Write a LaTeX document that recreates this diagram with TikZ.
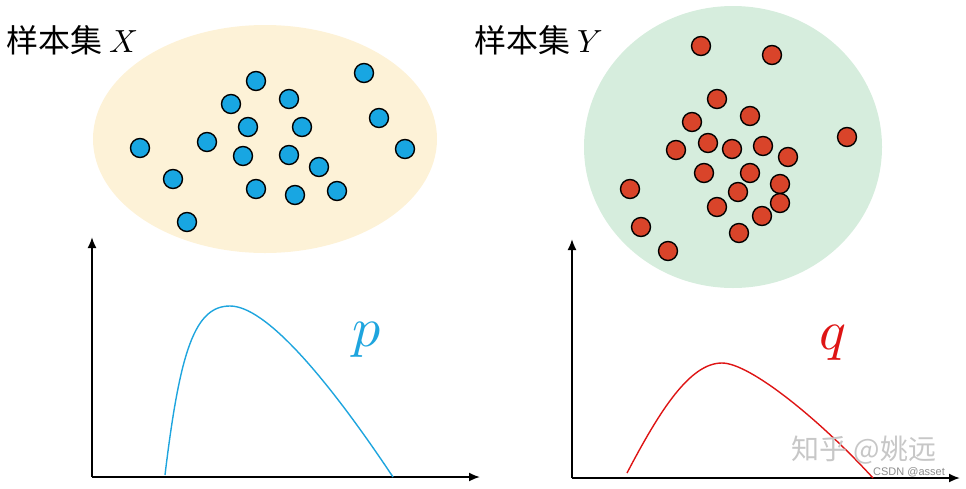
\documentclass[tikz,border=0pt]{standalone}
\usepackage{fontspec}
\usepackage{unicode-math}
\setmathfont{Latin Modern Math}
\newfontfamily\cjk{Noto Sans CJK SC}
\newfontfamily\marque{Liberation Sans}
\usetikzlibrary{arrows.meta}
\definecolor{sable}{RGB}{253,242,215}
\definecolor{menthe}{RGB}{214,237,221}
\definecolor{cyanpt}{RGB}{24,166,226}
\definecolor{rougept}{RGB}{217,68,42}
\definecolor{courbep}{RGB}{30,165,222}
\definecolor{courbeq}{RGB}{222,20,20}
\begin{document}
\begin{tikzpicture}[x=1pt,y=-1pt]
            \tikzstyle{bleu}=[circle,draw,line width=1.4pt,fill=cyanpt,minimum size=19pt,inner sep=0pt]
            \tikzstyle{rouge}=[circle,draw,line width=1.4pt,fill=rougept,minimum size=19pt,inner sep=0pt]
            \tikzstyle{axe}=[line width=1.8pt,-{Latex[length=11pt,width=9pt]}]
            \useasboundingbox (0,0) rectangle (966,488);
            % les deux nuages
            \fill[sable] (265,139) ellipse [x radius=172,y radius=114];
            \fill[menthe] (733,147) ellipse [x radius=149,y radius=141];
            \foreach \i/\a/\b in {1/256/81,2/289/99,3/231/104,4/364/73,5/248/127,6/302/127,
                7/379/118,8/140/148,9/207/142,10/243/156,11/289/155,12/319/167,13/405/149,
                14/173/179,15/256/189,16/295/195,17/337/191,18/187/222}
                \node[bleu] (x\i) at (\a,\b) {};
            \foreach \i/\a/\b in {1/701/46,2/772/55,3/717/99,4/750/116,5/692/122,6/676/150,
                7/708/143,8/732/149,9/763/146,10/788/157,11/847/137,12/704/173,13/750/173,
                14/780/184,15/738/192,16/630/189,17/717/207,18/780/203,19/762/216,20/641/227,
                21/739/233,22/668/251}
                \node[rouge] (y\i) at (\a,\b) {};
            \node[anchor=west] (sx) at (3,40) {\fontsize{32}{38}\selectfont\cjk 样本集 $X$};
            \node[anchor=west] (sy) at (471,40) {\fontsize{32}{38}\selectfont\cjk 样本集 $Y$};
            % les axes
            \coordinate (o1) at (92,477);
            \coordinate (h1) at (92,237);
            \coordinate (d1) at (480,477);
            \coordinate (o2) at (572,478);
            \coordinate (h2) at (572,239);
            \coordinate (d2) at (960,478);
            \draw[axe] (o1) -- (h1);
            \draw[axe] (o1) -- (d1);
            \draw[axe] (o2) -- (h2);
            \draw[axe] (o2) -- (d2);
            % les densites
            \draw[courbep,line width=1.4pt] (165,475) .. controls (180,350) and (195,306) .. (230,306)
                .. controls (265,306) and (325,375) .. (393,477);
            \draw[courbeq,line width=1.4pt] (627,473) .. controls (660,410) and (690,363) .. (722,363)
                .. controls (750,363) and (820,420) .. (873,478);
            \node[text=courbep] (p) at (367,340) {\fontsize{56}{60}\selectfont$p$};
            \node[text=courbeq] (q) at (833,343) {\fontsize{56}{60}\selectfont$q$};
            \node[text=black!22] (zh) at (864,450) {\fontsize{28}{32}\selectfont\cjk 知乎 @姚远};
            \node[text=black!45] (cs) at (909,472) {\fontsize{11}{12}\selectfont\marque CSDN @asset};
        \end{tikzpicture}
\end{document}
